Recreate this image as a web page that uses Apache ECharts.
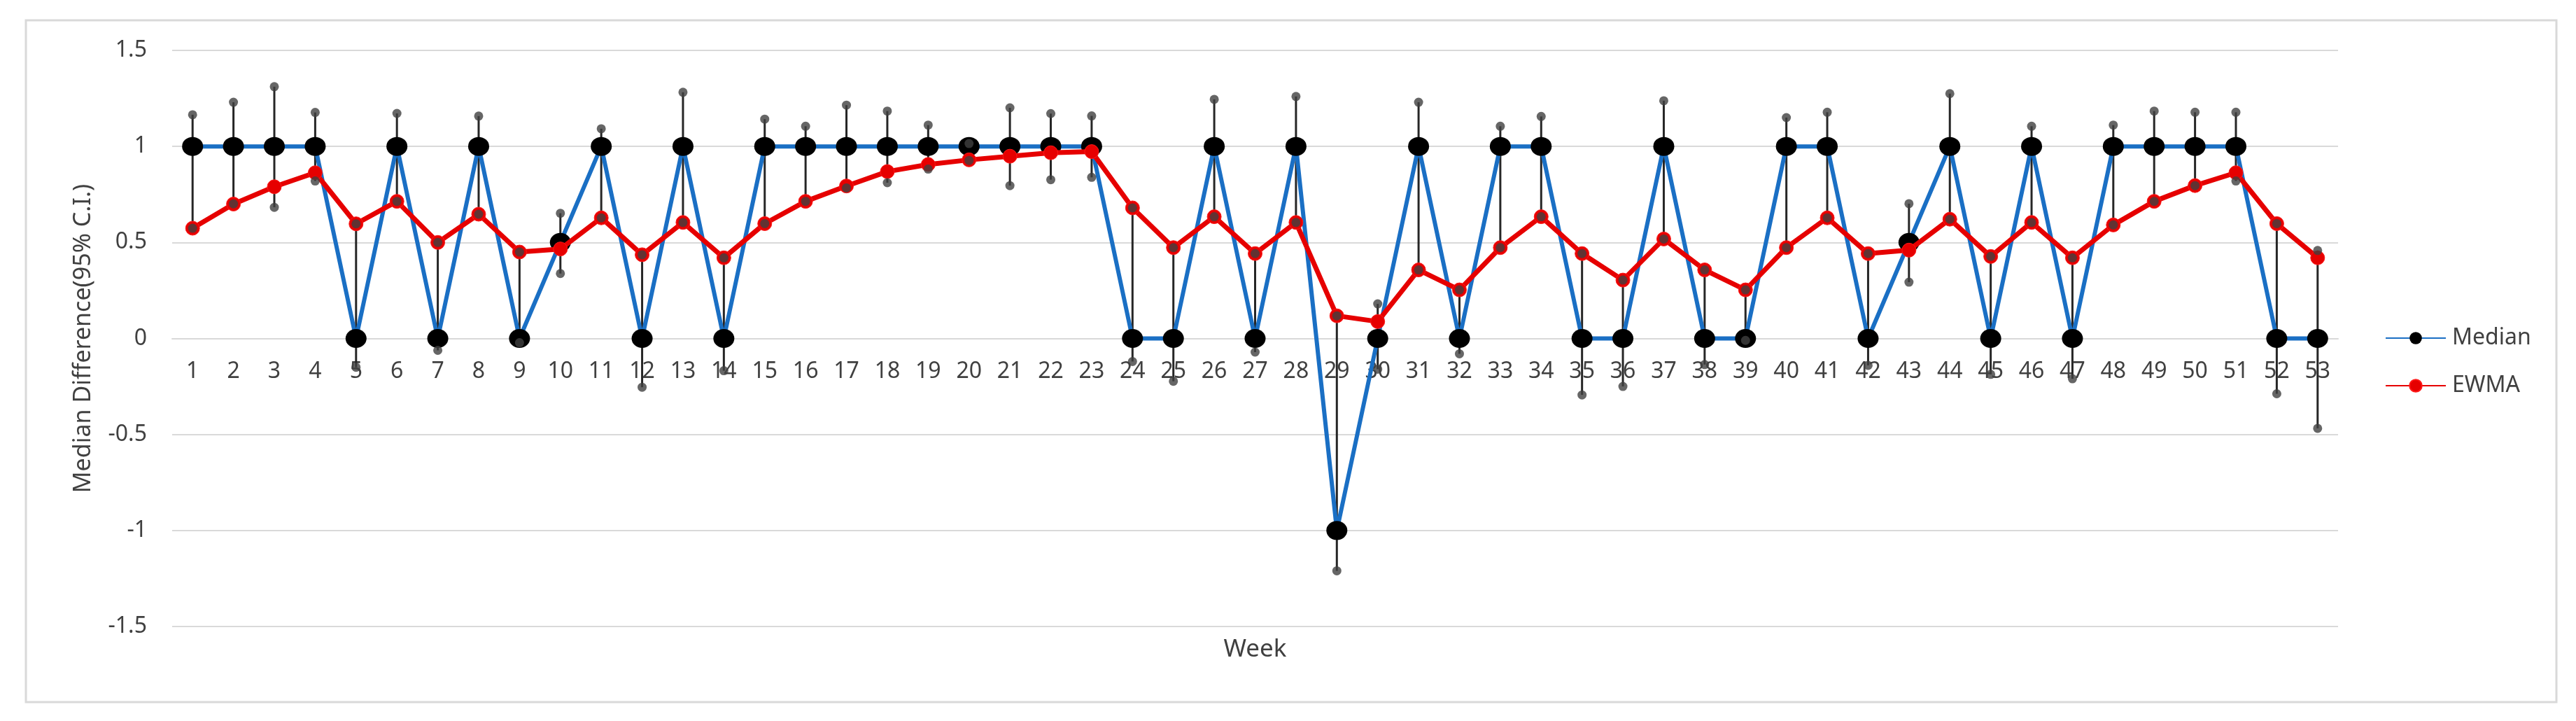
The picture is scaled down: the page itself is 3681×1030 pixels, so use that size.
<!DOCTYPE html>
<html>
<head>
<meta charset="utf-8">
<script src="https://cdn.jsdelivr.net/npm/echarts@6/dist/echarts.min.js"></script>
<style>
html,body{margin:0;padding:0;background:#fff;}
#chart{width:3681px;height:1030px;}
</style>
</head>
<body>
<div id="chart"></div>
<script>
// ---- data ----
var weeks = ['1','2','3','4','5','6','7','8','9','10','11','12','13','14','15','16','17','18','19','20','21','22','23','24','25','26','27','28','29','30','31','32','33','34','35','36','37','38','39','40','41','42','43','44','45','46','47','48','49','50','51','52','53'];
var median = [1,1,1,1,0,1,0,1,0,0.5,1,0,1,0,1,1,1,1,1,1,1,1,1,0,0,1,0,1,-1,0,1,0,1,1,0,0,1,0,0,1,1,0,0.5,1,0,1,0,1,1,1,1,0,0];
var ewma = [0.574,0.70,0.79,0.863,0.597,0.714,0.50,0.647,0.45,0.466,0.628,0.436,0.604,0.42,0.598,0.714,0.794,0.869,0.906,0.93,0.949,0.967,0.973,0.68,0.473,0.634,0.442,0.604,0.118,0.088,0.357,0.253,0.473,0.634,0.442,0.304,0.518,0.357,0.253,0.473,0.628,0.442,0.46,0.621,0.427,0.604,0.42,0.591,0.714,0.796,0.863,0.598,0.42];
var ciUpper = [1.165,1.23,1.311,1.177,0.597,1.172,0.50,1.158,0.45,0.652,1.092,0.436,1.282,0.42,1.142,1.105,1.215,1.184,1.111,1.015,1.201,1.171,1.159,0.68,0.473,1.245,0.442,1.26,0.118,0.18,1.23,0.253,1.105,1.156,0.442,0.304,1.238,0.357,0.253,1.15,1.178,0.442,0.702,1.275,0.427,1.105,0.42,1.111,1.184,1.178,1.178,0.598,0.458];
var ciLower = [0.574,0.701,0.683,0.82,-0.15,0.714,-0.062,0.647,-0.022,0.338,0.628,-0.254,0.604,-0.168,0.598,0.714,0.784,0.811,0.882,0.927,0.796,0.827,0.839,-0.12,-0.223,0.634,-0.071,0.604,-1.21,-0.16,0.357,-0.08,0.473,0.634,-0.294,-0.25,0.518,-0.136,-0.01,0.473,0.628,-0.14,0.293,0.621,-0.187,0.604,-0.21,0.591,0.714,0.796,0.82,-0.288,-0.468];
var yTicks = {min:-1.5, max:1.5, step:0.5};

var FONT = 'Noto Sans';
var TXT = '#404040';
var GRID = {left: 246, right: 340, top: 72, bottom: 135};

var chart = echarts.init(document.getElementById('chart'), null, {renderer:'canvas'});

var rangeData = weeks.map(function(w, i){ return [i, ciLower[i], ciUpper[i]]; });

var option = {
  backgroundColor: '#ffffff',
  animation: false,
  textStyle: {fontFamily: FONT},
  graphic: [{
    type: 'rect',
    shape: {x: 37, y: 29, width: 3616, height: 974},
    style: {fill: 'none', stroke: '#d9d9d9', lineWidth: 3},
    silent: true
  }],
  grid: {left: GRID.left, right: GRID.right, top: GRID.top, bottom: GRID.bottom, containLabel: false, outerBoundsMode: 'none'},
  legend: {
    data: ['Median', 'EWMA'],
    orient: 'vertical',
    left: 3403,
    top: 462,
    itemWidth: 86,
    itemHeight: 22,
    itemGap: 36,
    textStyle: {fontFamily: FONT, fontSize: 32, color: TXT, padding: [0,0,0,4]}
  },
  xAxis: {
    type: 'category',
    data: weeks,
    boundaryGap: true,
    position: 'bottom',
    offset: 0,
    name: 'Week',
    nameLocation: 'middle',
    nameGap: 427,
    nameTextStyle: {fontFamily: FONT, fontSize: 35, color: TXT},
    axisLine: {show: true, onZero: false, lineStyle: {color: '#d9d9d9', width: 2}},
    axisTick: {show: false},
    axisLabel: {fontFamily: FONT, fontSize: 32, color: TXT, margin: 31, interval: 0},
    splitLine: {show: false}
  },
  yAxis: {
    type: 'value',
    min: yTicks.min,
    max: yTicks.max,
    interval: yTicks.step,
    name: 'Median Difference(95% C.I.)',
    nameLocation: 'middle',
    nameGap: 110,
    nameTextStyle: {fontFamily: FONT, fontSize: 34, color: TXT},
    axisLine: {show: false},
    axisTick: {show: false},
    axisLabel: {fontFamily: FONT, fontSize: 32, color: TXT, margin: 36},
    splitLine: {show: true, lineStyle: {color: '#d9d9d9', width: 2}}
  },
  series: [
    {
      name: 'CI range',
      type: 'custom',
      data: rangeData,
      encode: {x: 0, y: [1, 2]},
      z: 1,
      silent: true,
      renderItem: function(params, api){
        var p1 = api.coord([api.value(0), api.value(1)]);
        var p2 = api.coord([api.value(0), api.value(2)]);
        return {
          type: 'line',
          shape: {x1: p1[0], y1: p1[1], x2: p2[0], y2: p2[1]},
          style: {stroke: '#262626', lineWidth: 3}
        };
      }
    },
    {
      name: 'Median',
      type: 'line',
      data: median,
      z: 2,
      symbol: 'circle',
      symbolSize: [30, 27],
      showAllSymbol: true,
      lineStyle: {color: '#1a6fc4', width: 6},
      itemStyle: {color: '#000000', borderWidth: 0}
    },
    {
      name: 'EWMA',
      type: 'line',
      data: ewma,
      z: 3,
      symbol: 'circle',
      symbolSize: 20,
      showAllSymbol: true,
      lineStyle: {color: '#e60000', width: 7},
      itemStyle: {color: '#e60000', borderColor: '#ff1a1a', borderWidth: 1}
    },
    {
      name: 'Upper CI',
      type: 'scatter',
      data: ciUpper,
      z: 4,
      symbol: 'circle',
      symbolSize: [13, 13],
      itemStyle: {color: '#404040'}
    },
    {
      name: 'Lower CI',
      type: 'scatter',
      data: ciLower,
      z: 4,
      symbol: 'circle',
      symbolSize: [13, 13],
      itemStyle: {color: '#404040'}
    }
  ]
};
chart.setOption(option);

// Place the category axis on the value-axis zero line (Excel "axis crosses at 0"),
// using the library's own scale to find where 0 lies.
var zeroY = chart.convertToPixel({yAxisIndex: 0}, 0);
var gridBottomY = chart.getHeight() - GRID.bottom;
chart.setOption({xAxis: {offset: zeroY - gridBottomY}});
</script>
</body>
</html>
